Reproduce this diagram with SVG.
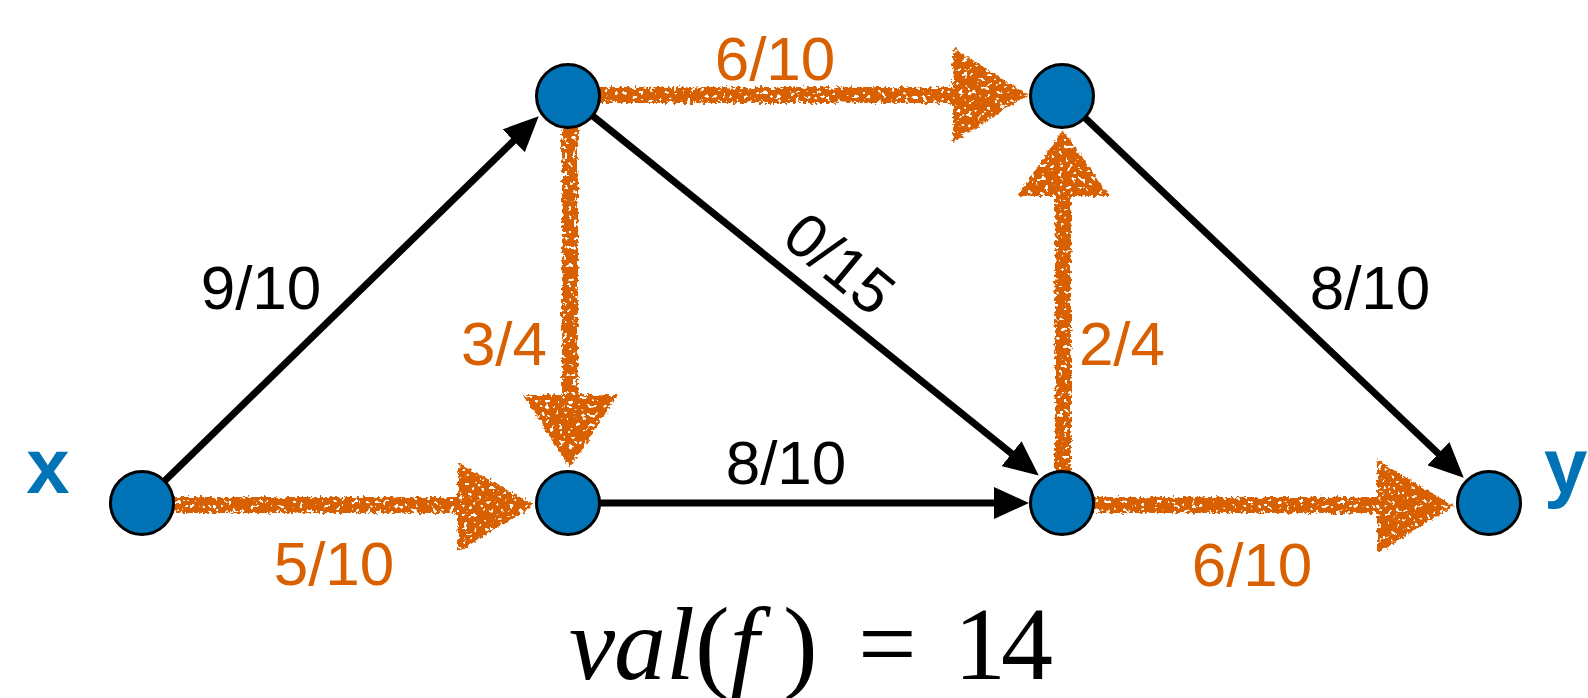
<svg xmlns="http://www.w3.org/2000/svg" width="1588" height="698" viewBox="0 0 1588 698">
<style>
.node{fill:#0073b7;stroke:#000;stroke-width:3}
.blk{stroke:#000;stroke-width:7;fill:none;marker-end:url(#ah)}
.org{stroke:#d86000;stroke-width:16;fill:none}
.orh{fill:#d86000}
.lbl{font-family:"Liberation Sans",Arial,sans-serif;font-size:62px;text-anchor:middle}
.lb{fill:#000}
.lo{fill:#d86000}
.term{font-family:"Liberation Sans",Arial,sans-serif;font-weight:bold;font-size:78px;fill:#0073b7}
.math{font-family:"Liberation Serif","Times New Roman",serif;font-size:104px;fill:#000}
</style>
<defs>
<marker id="ah" markerUnits="userSpaceOnUse" markerWidth="35" markerHeight="32" viewBox="0 0 35 32" refX="10" refY="16" orient="auto">
<path d="M0,0 L35,16 L0,32 z" fill="#000"/>
</marker>
<filter id="chalk" filterUnits="userSpaceOnUse" x="0" y="0" width="1588" height="698">
<feTurbulence type="fractalNoise" baseFrequency="0.3" numOctaves="2" seed="3" result="n"/>
<feDisplacementMap in="SourceGraphic" in2="n" scale="7" xChannelSelector="R" yChannelSelector="G" result="d"/>
<feTurbulence type="fractalNoise" baseFrequency="0.22" numOctaves="2" seed="11" result="n2"/>
<feColorMatrix in="n2" type="matrix" values="0 0 0 0 0  0 0 0 0 0  0 0 0 0 0  -22 0 0 0 15" result="holes"/>
<feComposite in="d" in2="holes" operator="in"/>
</filter>
</defs>
<g id="connectors">
<g id="flow" filter="url(#chalk)">
<path class="org" d="M150,505 L465,505"/>
<path class="orh" d="M458,462 L534,505 L458,552 z"/>
<path class="org" d="M575,95 L960,95"/>
<path class="orh" d="M953,48 L1028,95 L953,142 z"/>
<path class="org" d="M570,110 L570,400"/>
<path class="orh" d="M523,395 L618,395 L570,468 z"/>
<path class="org" d="M1063,495 L1063,190"/>
<path class="orh" d="M1017,196 L1063,130 L1109,196 z"/>
<path class="org" d="M1070,505 L1385,505"/>
<path class="orh" d="M1377,460 L1454,506 L1377,553 z"/>
</g>
<path class="blk" d="M142,503 L520.8,133.8"/>
<path class="blk" d="M568,96 L1019.3,459.9"/>
<path class="blk" d="M568,503 L1004,503"/>
<path class="blk" d="M1062,96 L1445.6,460.5"/>
</g>
<g id="node-x"><circle class="node" cx="142" cy="503" r="31.5"/><text class="term" x="48" y="493" text-anchor="middle">x</text></g>
<g id="node-a"><circle class="node" cx="568" cy="96" r="31.5"/></g>
<g id="node-b"><circle class="node" cx="568" cy="503" r="31.5"/></g>
<g id="node-c"><circle class="node" cx="1062" cy="96" r="31.5"/></g>
<g id="node-d"><circle class="node" cx="1062" cy="503" r="31.5"/></g>
<g id="node-y"><circle class="node" cx="1489" cy="503" r="31.5"/><text class="term" x="1544" y="493">y</text></g>
<g id="labels">
<text class="lbl lb" x="261" y="309">9/10</text>
<text class="lbl lo" x="504" y="365">3/4</text>
<text class="lbl lb" x="786" y="484">8/10</text>
<text class="lbl lo" x="1122" y="365">2/4</text>
<text class="lbl lb" x="1370" y="309">8/10</text>
<text class="lbl lo" x="775" y="80">6/10</text>
<text class="lbl lo" x="334" y="585">5/10</text>
<text class="lbl lo" x="1252" y="586">6/10</text>
<text class="lbl lb" transform="translate(826,280) rotate(39.5)" x="0" y="0">0/15</text>
</g>
<g id="value">
<text class="math" y="679"><tspan font-style="italic" x="569">v</tspan><tspan font-style="italic" x="614">a</tspan><tspan font-style="italic" x="666">l</tspan><tspan x="695">(</tspan><tspan font-style="italic" x="730">f</tspan><tspan x="783">)</tspan><tspan x="858">=</tspan><tspan x="954">1</tspan><tspan x="1001">4</tspan></text>
</g>
</svg>
